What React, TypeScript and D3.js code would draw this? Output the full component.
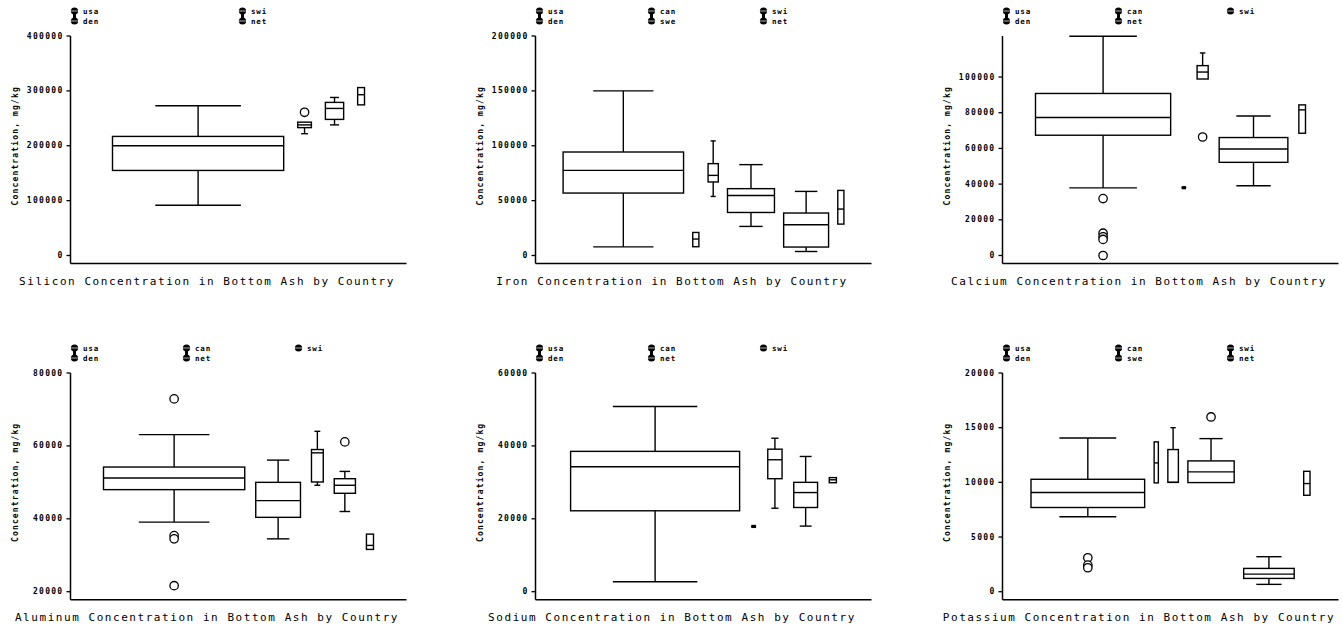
import React from "react";
import * as d3 from "d3";

// ---- Data: box statistics per country, [low whisker, Q1, median, Q3, high whisker] in mg/kg ----

const siliconTitle = "Silicon Concentration in Bottom Ash by Country";
const siliconCountries = ["usa", "den", "swi", "net"];
const siliconSamples = [75, 6, 8, 3];
const siliconStats = [
  [91500, 155000, 200000, 217000, 273000],
  [222000, 233000, 238000, 243000, 243000],
  [238000, 248000, 268000, 279000, 288000],
  [274500, 274500, 293000, 306000, 306000],
];
const siliconOutliers = [[], [261000], [], []];
const siliconTicks = [0, 100000, 200000, 300000, 400000];
const siliconDomain = [0, 400000];

const ironTitle = "Iron Concentration in Bottom Ash by Country";
const ironCountries = ["usa", "den", "can", "swe", "swi", "net"];
const ironSamples = [59, 3, 5, 23, 22, 3];
const ironStats = [
  [7900, 56900, 77600, 94300, 150000],
  [8000, 8000, 15000, 21000, 21000],
  [53800, 67000, 73000, 83700, 104400],
  [26500, 39200, 54700, 60900, 82800],
  [3650, 7700, 28000, 38700, 58400],
  [28600, 28600, 42300, 59300, 59300],
];
const ironOutliers = [[], [], [], [], [], []];
const ironTicks = [0, 50000, 100000, 150000, 200000];
const ironDomain = [0, 200000];

const calciumTitle = "Calcium Concentration in Bottom Ash by Country";
const calciumCountries = ["usa", "den", "can", "net", "swi"];
const calciumSamples = [61, 2, 5, 31, 3];
const calciumStats = [
  [37900, 67400, 77300, 90800, 122900],
  [38000, 38000, 38000, 38000, 38000],
  [98900, 98900, 102800, 106400, 113500],
  [39100, 52200, 59700, 66100, 78200],
  [68500, 68500, 81600, 84400, 84400],
];
const calciumOutliers = [[31900, 12500, 10500, 9000, 0], [], [66400], [], []];
const calciumTicks = [0, 20000, 40000, 60000, 80000, 100000];
const calciumDomain = [0, 123000];

const aluminumTitle = "Aluminum Concentration in Bottom Ash by Country";
const aluminumCountries = ["usa", "den", "can", "net", "swi"];
const aluminumSamples = [60, 19, 5, 9, 3];
const aluminumStats = [
  [39100, 48000, 51200, 54200, 63100],
  [34500, 40400, 45000, 50000, 56100],
  [49200, 50100, 58100, 59000, 64000],
  [42000, 47000, 49200, 51000, 53000],
  [31600, 31600, 32700, 35800, 35800],
];
const aluminumOutliers = [[72900, 35400, 34500, 21650], [], [], [61100], []];
const aluminumTicks = [20000, 40000, 60000, 80000];
const aluminumDomain = [20000, 80000];

const sodiumTitle = "Sodium Concentration in Bottom Ash by Country";
const sodiumCountries = ["usa", "den", "can", "net", "swi"];
const sodiumSamples = [71, 2, 6, 10, 3];
const sodiumStats = [
  [2750, 22200, 34300, 38500, 50800],
  [17900, 17900, 17900, 17900, 17900],
  [22900, 31000, 36200, 39100, 42100],
  [18000, 23100, 27200, 30000, 37100],
  [29900, 29900, 30700, 31300, 31300],
];
const sodiumOutliers = [[], [], [], [], []];
const sodiumTicks = [0, 20000, 40000, 60000];
const sodiumDomain = [0, 60000];

const potassiumTitle = "Potassium Concentration in Bottom Ash by Country";
const potassiumCountries = ["usa", "den", "can", "swe", "swi", "net"];
const potassiumSamples = [54, 2, 5, 22, 24, 3];
const potassiumStats = [
  [6850, 7700, 9070, 10280, 14060],
  [9950, 9950, 11780, 13700, 13700],
  [10000, 10000, 10000, 13000, 15000],
  [9980, 9980, 10960, 11960, 14000],
  [670, 1215, 1610, 2130, 3200],
  [8820, 8820, 9890, 11010, 11010],
];
const potassiumOutliers = [[3100, 2430, 2190], [], [], [15980], [], []];
const potassiumTicks = [0, 5000, 10000, 15000, 20000];
const potassiumDomain = [0, 20000];

const yAxisLabel = "Concentration, mg/kg";

// ---- Layout ----
const W = 1342;
const H = 629;
const colX = [70.5, 535.5, 1002.5];
const plotW = 336;
const rowRange: [number, number][] = [
  [255.5, 36],
  [591.7, 373],
];
const boxGaps = [14, 9.2, 11, 11, 11.7, 9.5];

const mono = "'DejaVu Sans Mono', 'Liberation Mono', monospace";

type Panel = {
  title: string;
  countries: string[];
  samples: number[];
  stats: number[][];
  outliers: number[][];
  ticks: number[];
  domain: number[];
};

const panels: Panel[] = [
  { title: siliconTitle, countries: siliconCountries, samples: siliconSamples, stats: siliconStats, outliers: siliconOutliers, ticks: siliconTicks, domain: siliconDomain },
  { title: ironTitle, countries: ironCountries, samples: ironSamples, stats: ironStats, outliers: ironOutliers, ticks: ironTicks, domain: ironDomain },
  { title: calciumTitle, countries: calciumCountries, samples: calciumSamples, stats: calciumStats, outliers: calciumOutliers, ticks: calciumTicks, domain: calciumDomain },
  { title: aluminumTitle, countries: aluminumCountries, samples: aluminumSamples, stats: aluminumStats, outliers: aluminumOutliers, ticks: aluminumTicks, domain: aluminumDomain },
  { title: sodiumTitle, countries: sodiumCountries, samples: sodiumSamples, stats: sodiumStats, outliers: sodiumOutliers, ticks: sodiumTicks, domain: sodiumDomain },
  { title: potassiumTitle, countries: potassiumCountries, samples: potassiumSamples, stats: potassiumStats, outliers: potassiumOutliers, ticks: potassiumTicks, domain: potassiumDomain },
];

// Box widths are proportional to sample size; boxes are packed left to right
// with a constant gap and a margin of three gaps at each end.
function layoutBoxes(samples: number[], gap: number, width: number) {
  const k = samples.length;
  const unit = (width - (k + 5) * gap) / d3.sum(samples);
  let x = 3 * gap;
  return samples.map((n) => {
    const w = n * unit;
    const left = x;
    x += w + gap;
    return { left, w, cx: left + w / 2 };
  });
}

function BoxPanel({ panel, index }: { panel: Panel; index: number }) {
  const row = Math.floor(index / 3);
  const col = index % 3;
  const x0 = colX[col];
  const [rBottom, rTop] = rowRange[row];
  const y = d3.scaleLinear().domain(panel.domain).range([rBottom, rTop]);
  const axisY = rBottom + 8;
  const boxes = layoutBoxes(panel.samples, boxGaps[index], plotW);
  const nCols = Math.ceil(panel.countries.length / 2);
  const legendSpacing = plotW / nCols;
  const stroke = "#000";

  return (
    <g>
      {/* legend */}
      {d3.range(nCols).map((c) => {
        const entries = panel.countries.slice(c * 2, c * 2 + 2);
        const sx = x0 + 4 + c * legendSpacing;
        const ly = rTop - 25;
        return (
          <g key={"lg" + c}>
            {entries.length > 1 && (
              <rect x={sx - 1.5} y={ly} width={3} height={10} fill={stroke} />
            )}
            {entries.map((name, j) => (
              <g key={name}>
                <circle cx={sx} cy={ly + j * 10} r={3.6} fill={stroke} />
                <line x1={sx - 3.4} x2={sx + 3.4} y1={ly + j * 10} y2={ly + j * 10} stroke="#fff" strokeWidth={0.7} />
                <text
                  x={sx + 8.5}
                  y={ly + j * 10}
                  dominantBaseline="central"
                  fontFamily={mono}
                  fontSize={7.5}
                  fontWeight="bold"
                  letterSpacing={0.8}
                  fill={stroke}
                >
                  {name}
                </text>
              </g>
            ))}
          </g>
        );
      })}

      {/* axes */}
      <line x1={x0} x2={x0} y1={rTop} y2={axisY} stroke={stroke} strokeWidth={1.5} />
      <line x1={x0} x2={x0 + plotW} y1={axisY} y2={axisY} stroke={stroke} strokeWidth={1.5} />
      {panel.ticks.map((t) => (
        <g key={"t" + t}>
          <line x1={x0 - 4} x2={x0} y1={y(t)} y2={y(t)} stroke={stroke} strokeWidth={1.3} />
          <text
            x={x0 - 7}
            y={y(t)}
            textAnchor="end"
            dominantBaseline="central"
            fontFamily={mono}
            fontSize={8}
            fontWeight="bold"
            letterSpacing={1.3}
            fill={stroke}
          >
            {t}
          </text>
        </g>
      ))}
      <text
        transform={`translate(${x0 - 55},${(rBottom + rTop) / 2}) rotate(-90)`}
        textAnchor="middle"
        dominantBaseline="central"
        fontFamily={mono}
        fontSize={8}
        fontWeight="bold"
        letterSpacing={1.15}
        fill={stroke}
      >
        {yAxisLabel}
      </text>

      {/* boxes */}
      {boxes.map((b, i) => {
        const [lo, q1, med, q3, hi] = panel.stats[i];
        const bx = x0 + b.left;
        const cx = x0 + b.cx;
        const capHalf = b.w / 4;
        const h = y(q1) - y(q3);
        return (
          <g key={"b" + i} fill="none" stroke={stroke} strokeWidth={1.4}>
            {hi > q3 && <line x1={cx} x2={cx} y1={y(q3)} y2={y(hi)} />}
            {hi > q3 && <line x1={cx - capHalf} x2={cx + capHalf} y1={y(hi)} y2={y(hi)} />}
            {lo < q1 && <line x1={cx} x2={cx} y1={y(q1)} y2={y(lo)} />}
            {lo < q1 && <line x1={cx - capHalf} x2={cx + capHalf} y1={y(lo)} y2={y(lo)} />}
            {h >= 1 ? (
              <rect x={bx} y={y(q3)} width={b.w} height={h} fill="#fff" />
            ) : (
              <line x1={bx} x2={bx + b.w} y1={y(med)} y2={y(med)} strokeWidth={3.2} />
            )}
            <line x1={bx} x2={bx + b.w} y1={y(med)} y2={y(med)} />
            {panel.outliers[i].map((o, j) => (
              <circle key={"o" + j} cx={cx} cy={y(o)} r={4.2} fill="#fff" strokeWidth={1.3} />
            ))}
          </g>
        );
      })}

      {/* title */}
      <text
        x={x0 + 136.5}
        y={axisY + 21}
        textAnchor="middle"
        fontFamily={mono}
        fontSize={11}
        letterSpacing={1.55}
        fill={stroke}
      >
        {panel.title}
      </text>
    </g>
  );
}

export default function App() {
  return (
    <svg
      width={W}
      height={H}
      viewBox={`0 0 ${W} ${H}`}
      style={{ position: "absolute", left: 0, top: 0, background: "#fff" }}
    >
      <rect width={W} height={H} fill="#fff" />
      {panels.map((p, i) => (
        <BoxPanel key={p.title} panel={p} index={i} />
      ))}
    </svg>
  );
}
